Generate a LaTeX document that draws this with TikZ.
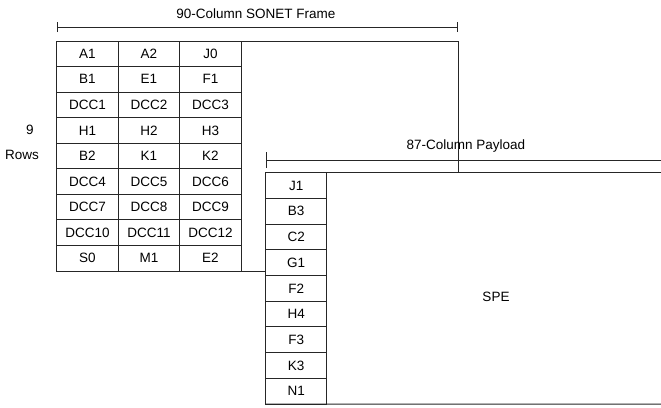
\documentclass[tikz,border=0pt]{standalone}
\usepackage{fontspec}
\setmainfont{Liberation Sans}
\usetikzlibrary{arrows.meta,positioning}

\begin{document}
\begin{tikzpicture}[
 x=1pt,y=-1pt,
 cell/.style={rectangle,draw=black!85,line width=1pt,outer sep=0pt,inner sep=0pt,minimum width=61.5pt,minimum height=25.56pt,font=\fontsize{13.5}{16}\selectfont},
 pcell/.style={cell,minimum width=61pt,minimum height=25.7pt},
 rule/.style={draw=black!85,line width=1pt},
 dim/.style={draw=black!85,line width=1pt},
 lbl/.style={inner sep=0pt,font=\fontsize{13.5}{16}\selectfont}
]
\useasboundingbox (0,0) rectangle (661,407);
% transport overhead, 9 rows x 3 columns
\foreach \ca/\cb/\cc [count=\r from 0] in {A1/A2/J0,B1/E1/F1,DCC1/DCC2/DCC3,H1/H2/H3,B2/K1/K2,DCC4/DCC5/DCC6,DCC7/DCC8/DCC9,DCC10/DCC11/DCC12,S0/M1/E2}{
 \node[cell] (toh\r a) at (87.45,{41+25.56*(\r+0.5)}) {\ca};
 \node[cell,right=0pt of toh\r a] (toh\r b) {\cb};
 \node[cell,right=0pt of toh\r b] (toh\r c) {\cc};
}
% path overhead column
\foreach \lb [count=\r from 0] in {J1,B3,C2,G1,F2,H4,F3,K3,N1}{
 \node[pcell] (poh\r) at (296.2,{172.7+25.7*(\r+0.5)}) {\lb};
}
% frame and payload outlines
\coordinate (frTR) at (458,41);
\coordinate (frBR) at (458,172.7);
\coordinate (paR) at (661,172.7);
\coordinate (paBR) at (661,404);
\draw[rule] (toh0a.north west) -- (frTR) -- (frBR);
\draw[rule] (toh8a.south west) -- (poh0.west |- toh8a.south);
\draw[rule] (poh0.north west) -- (paR);
\draw[rule] (poh8.south west) -- (paBR);
% dimension lines
\coordinate (dfL) at (56.7,27);
\coordinate (dfR) at (458,27);
\coordinate (dpL) at (265.7,160);
\coordinate (dpR) at (661,160);
\draw[dim,{Bar[width=10pt]}-{Bar[width=10pt]}] (dfL) -- (dfR);
\draw[dim,{Bar[width=16pt]}-] (dpL) -- (dpR);
\node[lbl] (tframe) at (256,14) {90-Column SONET Frame};
\node[lbl] (tpay) at (466,146) {87-Column Payload};
\node[lbl] (tnine) at (30,130) {9};
\node[lbl] (trows) at (22,155) {Rows};
\node[lbl] (tspe) at (496,297) {SPE};
\end{tikzpicture}
\end{document}
